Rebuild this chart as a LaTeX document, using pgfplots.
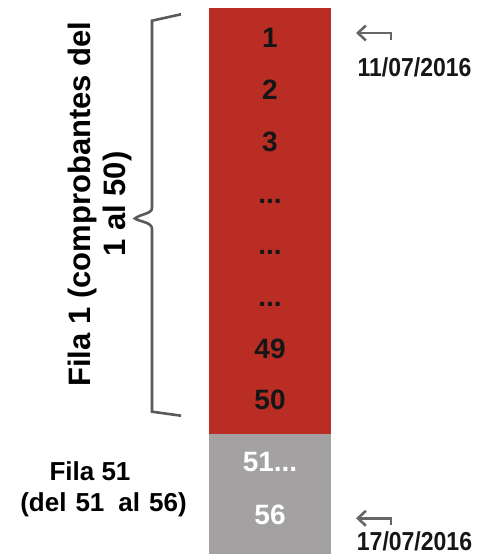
\documentclass[border=0pt]{standalone}
\usepackage{pgfplots}
\pgfplotsset{compat=1.18}
\usepackage{graphicx}
\usepackage{fontspec}
\setmainfont{Liberation Sans}
\usetikzlibrary{arrows.meta}
\definecolor{barred}{HTML}{B92D25}
\definecolor{bargray}{HTML}{A3A1A2}
\definecolor{bracegray}{HTML}{5A5A5A}
\definecolor{arrowgray}{HTML}{666666}
\definecolor{numblack}{HTML}{161616}
\tikzset{barlbl/.style={anchor=base, inner sep=0pt, font=\fontsize{28bp}{30bp}\selectfont\bfseries}}
\begin{document}
\begin{tikzpicture}
\begin{axis}[
  scale only axis, width=484bp, height=554bp,
  xmin=0, xmax=484, ymin=0, ymax=554,
  hide axis, clip=false,
]
% red block (rows 1-50) reaches the top; gray block (rows 51-56) drawn over its lower part
\addplot[ybar, bar width=122, bar shift=0pt, fill=barred, draw=none] coordinates {(270,546)};
\addplot[ybar, bar width=122, bar shift=0pt, fill=bargray, draw=none] coordinates {(270,120)};

% labels inside the bar
\node[barlbl, text=numblack] at (axis cs:270,506) {1};
\node[barlbl, text=numblack] at (axis cs:270,454.3) {2};
\node[barlbl, text=numblack] at (axis cs:270,402.6) {3};
\node[barlbl, text=numblack] at (axis cs:270,350.9) {...};
\node[barlbl, text=numblack] at (axis cs:270,299.2) {...};
\node[barlbl, text=numblack] at (axis cs:270,247.5) {...};
\node[barlbl, text=numblack] at (axis cs:270,195.8) {49};
\node[barlbl, text=numblack] at (axis cs:270,144) {50};
\node[barlbl, text=white] at (axis cs:270,82) {51...};
\node[barlbl, text=white] at (axis cs:270,30) {56};

% brace
\draw[bracegray, line width=2.6bp, line join=miter]
  (axis cs:181,539.7) -- (axis cs:152,533.3) -- (axis cs:152,346)
  .. controls (axis cs:152,340) and (axis cs:140,340) .. (axis cs:135,335.5)
  .. controls (axis cs:140,332) and (axis cs:152,332) .. (axis cs:152,325)
  -- (axis cs:152,142.3) -- (axis cs:181,138.3);

% rotated brace label
\node[rotate=90, align=center, inner sep=0pt,
      font=\fontsize{31bp}{35bp}\selectfont\bfseries]
  at (axis cs:100,350) {Fila 1 (comprobantes del\\1 al 50)};

% lower-left label
\node[anchor=base, inner sep=0pt, font=\fontsize{26bp}{28bp}\selectfont\bfseries]
  at (axis cs:90,73) {Fila 51};
\node[anchor=base, inner sep=0pt, font=\fontsize{26bp}{28bp}\selectfont\bfseries]
  at (axis cs:103.5,42) {(del\hspace{9bp}51\hspace{14bp}al\hspace{9bp}56)};

% arrows and dates
\draw[arrowgray, line width=2.6bp, -{Straight Barb[length=8bp,width=15bp]}]
  (axis cs:391,514) -- (axis cs:391,521) -- (axis cs:356,521);
\draw[arrowgray, line width=2.6bp, -{Straight Barb[length=8bp,width=15bp]}]
  (axis cs:391,29) -- (axis cs:391,35.7) -- (axis cs:356,35.7);
\node[anchor=base, inner sep=0pt, font=\fontsize{26bp}{28bp}\selectfont\bfseries, text=numblack]
  at (axis cs:414.5,477) {\scalebox{0.885}[1]{11/07/2016}};
\node[anchor=base, inner sep=0pt, font=\fontsize{26bp}{28bp}\selectfont\bfseries, text=numblack]
  at (axis cs:414.5,4) {\scalebox{0.885}[1]{17/07/2016}};
\end{axis}
\pgfresetboundingbox
\path (current axis.south west) rectangle (current axis.north east);
\end{tikzpicture}
\end{document}
